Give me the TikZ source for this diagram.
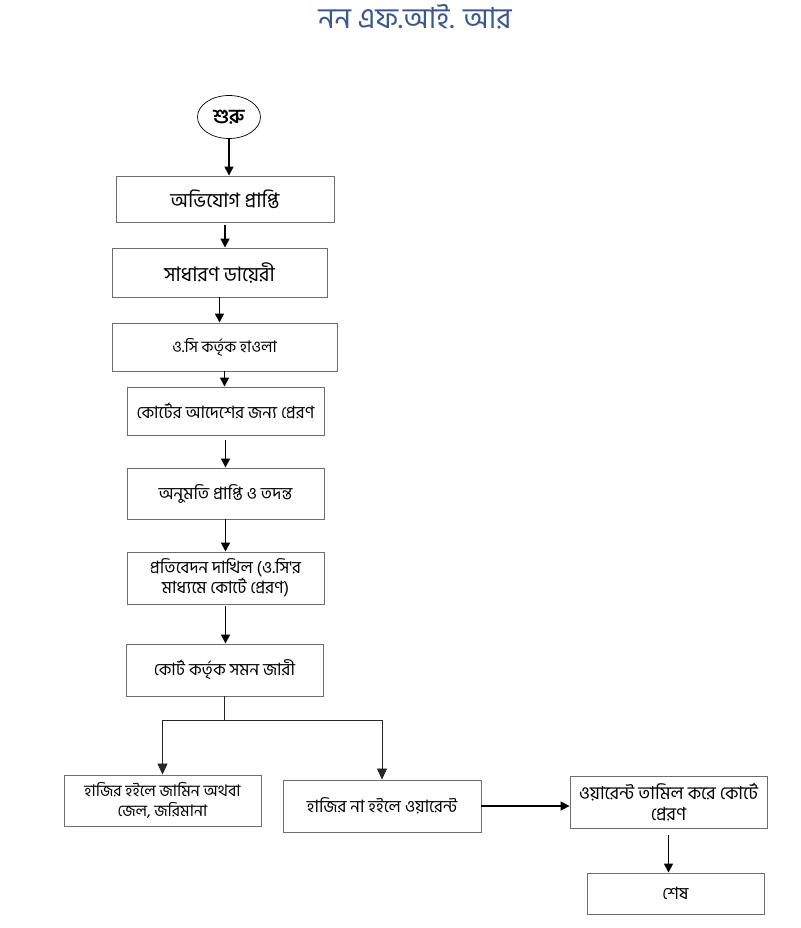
\documentclass[tikz,border=0pt]{standalone}
\usepackage{fontspec}
\newfontfamily\bn[Script=Bengali]{Hind Siliguri}
\usetikzlibrary{arrows.meta,shapes.geometric}
\definecolor{titleblue}{RGB}{58,88,140}
\definecolor{boxline}{RGB}{110,110,110}
\begin{document}
\begin{tikzpicture}[x=1pt,y=-1pt,
  box/.style={draw=boxline,line width=0.9pt,inner sep=2pt,align=center,font=\bn\fontsize{17}{21}\selectfont,text=black},
  arr/.style={line width=1.6pt,-{Triangle[length=9pt,width=9pt]}},
  branch/.style={draw=black!85,line width=0.8pt,-{Triangle[length=11pt,width=10pt]}},
  thin/.style={draw=black!85,line width=0.8pt}]
\useasboundingbox (0,0) rectangle (800,928);
\node[font=\bn\fontsize{29}{32}\selectfont,text=titleblue] (title) at (415,17) {নন এফ.আই. আর};
\node[draw,ellipse,line width=0.7pt,minimum width=63pt,minimum height=43pt,inner sep=0pt,font=\bn\bfseries\fontsize{20}{22}\selectfont] (start) at (229,117) {শুরু};
\node[box,minimum width=218pt,minimum height=46pt,font=\bn\fontsize{20}{22}\selectfont] (b1) at (225,199) {অভিযোগ প্রাপ্তি};
\node[box,minimum width=215pt,minimum height=49pt,font=\bn\fontsize{20}{22}\selectfont] (b2) at (219.5,272.5) {সাধারণ ডায়েরী};
\node[box,minimum width=225pt,minimum height=48pt,font=\bn\fontsize{16}{20}\selectfont] (b3) at (224.5,347) {ও.সি কর্তৃক হাওলা};
\node[box,minimum width=197pt,minimum height=48pt] (b4) at (225.5,411) {কোর্টের আদেশের জন্য প্রেরণ};
\node[box,minimum width=197pt,minimum height=51pt] (b5) at (225.5,493.5) {অনুমতি প্রাপ্তি ও তদন্ত};
\node[box,minimum width=197pt,minimum height=52pt,font=\bn\fontsize{17}{20}\selectfont] (b6) at (225.5,578) {প্রতিবেদন দাখিল (ও.সি'র\\মাধ্যমে কোর্টে প্রেরণ)};
\node[box,minimum width=197pt,minimum height=52pt] (b7) at (224.5,670) {কোর্ট কর্তৃক সমন জারী};
\node[box,minimum width=197pt,minimum height=51pt,font=\bn\fontsize{16}{20}\selectfont] (b8) at (162.5,800.5) {হাজির হইলে জামিন অথবা\\জেল, জরিমানা};
\node[box,minimum width=198pt,minimum height=52pt] (b9) at (382,806) {হাজির না হইলে ওয়ারেন্ট};
\node[box,minimum width=197pt,minimum height=52pt,font=\bn\fontsize{18}{21}\selectfont] (b10) at (668.5,802) {ওয়ারেন্ট তামিল করে কোর্টে\\প্রেরণ};
\node[box,minimum width=177pt,minimum height=41pt] (b11) at (675.5,893.5) {শেষ};
\coordinate (j) at (224,720);
\draw[arr] (start.south) -- (start.south |- b1.north);
\draw[arr,shorten <=3pt] (b1.south) -- (b1.south |- b2.north);
\draw[arr] (b2.south) -- (b2.south |- b3.north);
\draw[arr] (b3.south) -- (b3.south |- b4.north);
\draw[arr,shorten <=5pt] (b4.south) -- (b4.south |- b5.north);
\draw[arr] (b5.south) -- (b5.south |- b6.north);
\draw[arr,shorten <=2pt] (b6.south) -- (b6.south |- b7.north);
\draw[thin] (b7.south) -- (b7.south |- j);
\draw[branch] (b7.south |- j) -| (b8.north);
\draw[branch] (b7.south |- j) -| (b9.north);
\draw[arr] (b9.east) -- (b9.east -| b10.west);
\draw[arr,shorten <=7pt] (b10.south) -- (b10.south |- b11.north);
\end{tikzpicture}
\end{document}
